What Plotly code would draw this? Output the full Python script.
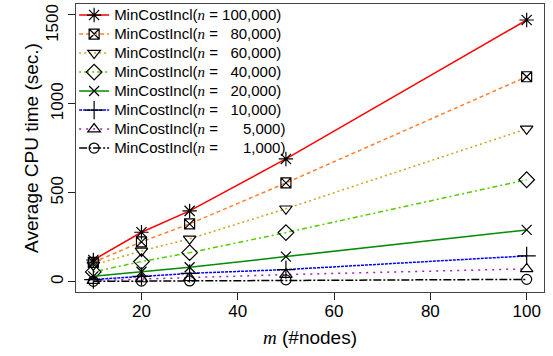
import plotly.graph_objects as go

m_nodes = [10, 20, 30, 50, 100]
n_labels = ["100,000", "80,000", "60,000", "40,000", "20,000", "10,000", "5,000", "1,000"]
cpu_100k = [122, 278, 398, 690, 1471]
cpu_80k = [109, 224, 325, 555, 1152]
cpu_60k = [94, 173, 241, 410, 859]
cpu_40k = [55, 113, 163, 276, 573]
cpu_20k = [30, 56, 81, 141, 291]
cpu_10k = [12, 30, 47, 68, 145]
cpu_5k = [6, 15, 22, 40, 72]
cpu_1k = [2, 3, 4, 10, 13]
y_ticks = [0, 500, 1000, 1500]
y_tick_text = ["0", "500", "1000", ""]
y_top_tick = 1500
y_top_text = "1500"
x_ticks = [20, 40, 60, 80, 100]
y_range = [-58, 1561]

series = [cpu_100k, cpu_80k, cpu_60k, cpu_40k, cpu_20k, cpu_10k, cpu_5k, cpu_1k]
colors = ["#FF0000", "#FF8030", "#D4A020", "#55CC00", "#008B00", "#0000FF", "#A020C0", "#000000"]
dashes = ["solid", "4px,3px", "2px,3px", "2px,3px,5px,3px", "solid", "3px,1px", "2px,5px", "8px,2px,2px,2px"]
symbols = ["asterisk-open", "square-x-open", "triangle-down-open", "diamond-open",
           "x-thin-open", "cross-thin-open", "triangle-up-open", "circle-open"]
sizes = [12, 10, 11, 12, 10, 13, 11, 10]

fig = go.Figure()
for vals, lab, col, dsh, sym, sz in zip(series, n_labels, colors, dashes, symbols, sizes):
    if len(lab) == 5:
        pad = "\u00a0" * 5
    elif len(lab) == 6:
        pad = "\u00a0" * 2
    else:
        pad = ""
    name = ("<span style=\"font-size:15px\">MinCostIncl("
            "<span style=\"font-family:'Liberation Serif';font-style:italic\">n</span>"
            " = " + pad + lab + ")</span>")
    fig.add_trace(go.Scatter(
        x=m_nodes, y=vals, mode="lines+markers", name=name,
        line=dict(color=col, width=1.5, dash=dsh),
        marker=dict(symbol=sym, size=sz, color="black",
                    line=dict(color="black", width=1.2)),
    ))

# top y tick label, nudged down so it stays inside the figure (as in the reference)
fig.add_annotation(
    x=0, xref="paper", y=y_top_tick, yref="y", text=y_top_text, showarrow=False,
    textangle=-90, xanchor="center", yanchor="middle", xshift=-23, yshift=-8,
    font=dict(size=17, color="black"),
)

fig.update_layout(
    width=553, height=356,
    margin=dict(l=76, r=9, t=4, b=64, autoexpand=False),
    paper_bgcolor="white", plot_bgcolor="white",
    font=dict(family="'Liberation Sans', Arial, sans-serif", color="black", size=17),
    showlegend=True,
    legend=dict(x=-0.004, y=1.012, xanchor="left", yanchor="top", bgcolor="rgba(0,0,0,0)",
                font=dict(size=12.3), tracegroupgap=0, itemwidth=30,
                borderwidth=0),
    xaxis=dict(
        range=[6.4, 103.6], tickvals=x_ticks, automargin=False,
        showgrid=False, zeroline=False, showline=True, mirror=True,
        linecolor="#444", linewidth=1, ticks="outside", ticklen=7, tickcolor="#222",
        tickfont=dict(size=17), ticklabeloverflow="allow", ticklabelstandoff=-3,
        title=dict(text="<span style=\"font-family:'Liberation Serif';font-style:italic\">m</span> (#nodes)",
                   font=dict(size=19), standoff=10),
    ),
    yaxis=dict(
        range=y_range, tickvals=y_ticks, ticktext=y_tick_text, automargin=False,
        showgrid=False, zeroline=False, showline=True, mirror=True,
        linecolor="#444", linewidth=1, ticks="outside", ticklen=7, tickcolor="#222",
        tickangle=-90, tickfont=dict(size=17), ticklabeloverflow="allow", ticklabelstandoff=-2,
        title=dict(text="Average CPU time (sec.)", font=dict(size=19), standoff=4),
    ),
)

fig.write_html("out.html", config={"displayModeBar": False},
               post_script="document.body.style.margin='0px';")
